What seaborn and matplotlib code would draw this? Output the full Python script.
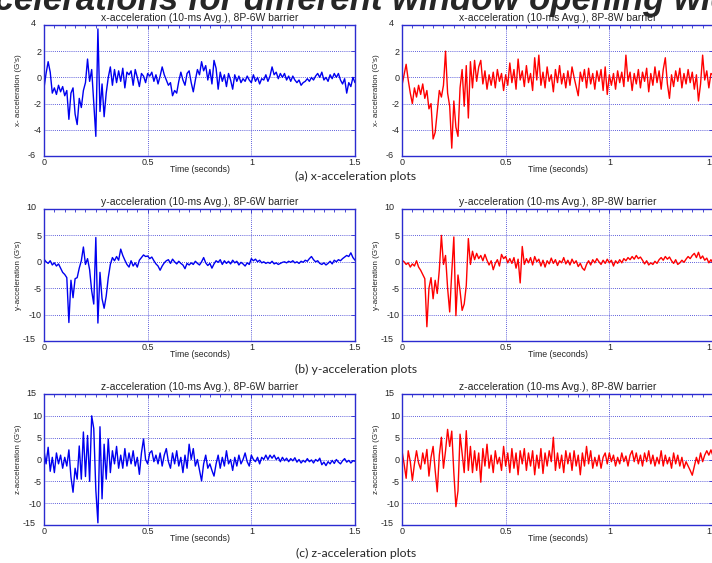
import numpy as np
import matplotlib
matplotlib.use("Agg")
import matplotlib.pyplot as plt
import matplotlib.transforms as mtransforms
from matplotlib.ticker import MultipleLocator
import seaborn as sns

# 10-ms averaged acceleration (G's), every 0.01 s from 0 to 1.5 s
x_6w = [
    -0.8, 0.3, 1.2, 0.4, -1.2, -0.8, -1.3, -0.6, -1.1, -0.7,
    -1.4, -1.0, -3.2, -1.2, -0.8, -2.8, -3.6, -1.6, -2.3, -1.0,
    -0.4, 1.4, -0.3, 0.6, -2.0, -4.5, 3.7, -2.6, -0.5, -3.0,
    -1.2, 0.0, 0.8, -0.6, 0.6, -0.4, 0.5, -0.3, 0.7, -0.8,
    0.4, 0.2, 0.5, -0.6, 0.6, 0.0, -0.7, 0.3, 0.1, -0.4,
    0.3, 0.1, 0.4, -0.3, 0.2, -0.5, 0.1, 0.8, 0.2, -0.2,
    -0.6, -0.4, -1.4, -1.0, -1.2, -0.3, 0.4, -0.2, -0.6, 0.3,
    0.5, -0.4, -1.1, -0.2, 0.6, 0.2, 1.2, 0.5, 0.9, -0.2,
    0.6, -0.5, 1.3, 0.7, -0.9, 0.4, -0.3, 0.2, -0.7, 0.3,
    -0.2, -0.9, 0.2, -0.3, 0.1, -0.4, -0.1, -0.3, 0.1, -0.2,
    -0.4, 0.2, -0.3, 0.0, -0.5, -0.1, -0.2, 0.2, -0.3, 0.1,
    0.8, 0.2, 0.4, -0.1, 0.3, 0.0, 0.3, -0.2, 0.1, -0.3,
    0.1, -0.2, -0.4, -0.2, -0.6, -0.4, -0.3, -0.1, -0.3, 0.0,
    -0.2, 0.1, 0.3, 0.0, 0.4, -0.2, 0.0, -0.3, 0.2, -0.1,
    0.3, 0.0, 0.3, -0.2, -0.5, -0.1, -1.2, -0.4, -0.7, 0.0,
    -0.4,
]
x_8w = [
    -0.6, 0.2, 1.0, -0.2, -1.2, -2.0, -0.8, -1.5, -0.6, -1.3,
    -0.5, -1.6, -1.0, -2.4, -2.0, -4.7, -4.2, -2.6, -1.0, -1.5,
    -0.6, 2.0, -1.2, -2.2, -5.4, -1.8, -3.8, -4.5, -0.8, 0.6,
    -2.2, 0.9, -3.1, 1.2, -0.8, 1.3, -0.3, 0.8, 1.3, -0.5,
    0.5, -0.9, 0.2, -0.6, 0.4, -0.8, 0.6, -0.3, 0.3, -1.0,
    0.2, -0.6, 1.1, -0.4, 0.6, -0.9, 1.4, -0.2, 0.5, -0.7,
    0.9, -0.4, 0.3, -1.0, 1.5, -0.2, 1.7, -0.6, 0.4, -0.8,
    0.8, -0.3, 0.2, -1.1, 0.6, -0.4, 0.9, -0.5, 0.3, -0.8,
    0.5, -0.6, 0.8, 0.0, -0.7, -1.4, 0.4, -0.3, 0.6, -0.8,
    0.7, -0.5, 0.3, -0.9, 0.5, -0.3, 0.6, -1.0, 0.8, -1.3,
    0.2, -0.6, 0.3, -0.9, 0.5, -0.4, 0.4, -0.7, 1.7, -0.3,
    0.4, -1.0, 0.3, -0.5, 0.6, -0.8, 0.4, -0.3, 0.7, -1.1,
    0.3, -0.6, 0.8, -0.4, 0.5, -0.9, 0.6, 1.5, -0.5, -1.6,
    0.2, -0.7, 0.5, -0.3, 0.7, -0.8, 0.3, -0.5, 0.6, -0.4,
    0.4, -0.9, 0.2, -1.8, -0.5, 1.7, -0.2, 0.5, -0.8, 0.3,
    0.2,
]
y_6w = [
    0.5, 0.0, -0.3, 0.2, -0.6, -0.2, -0.8, -0.4, -1.2, -2.0,
    -2.4, -3.0, -11.5, -3.5, -6.8, -3.2, -3.0, -1.2, 0.2, 2.8,
    -0.5, 0.6, -1.5, -5.5, -8.0, 4.6, -11.6, -2.0, -7.0, -8.8,
    -6.5, -3.0, -0.5, 0.8, 0.2, 1.0, 0.3, 2.4, 1.2, 0.3,
    -0.5, -1.0, 0.2, -0.8, -0.2, -1.0, 0.3, 0.8, 1.3, 1.0,
    1.1, 0.6, 0.9, 0.2, -0.4, -0.8, -1.6, -0.8, -0.2, 0.2,
    0.4, -0.3, 0.5, 0.0, -0.4, 0.1, -0.3, -0.6, -1.3, -0.3,
    -0.6, -0.2, -0.5, 0.1, -0.3, -0.6, 0.0, 0.8, -0.2, -0.7,
    -0.3, -1.2, -0.4, 0.2, -0.1, 0.4, -0.5, 0.2, -0.3, 0.1,
    -0.4, 0.3, -0.2, 0.1, -0.6, -0.1, -0.4, -0.8, -0.2, -0.5,
    0.6, 0.2, 0.5, 0.0, 0.3, -0.2, 0.0, -0.3, -0.1, -0.3,
    0.1, -0.4, -0.2, -0.5, -0.3, -0.1, 0.0, -0.2, 0.1, -0.1,
    0.2, -0.2, 0.0, -0.3, 0.1, -0.1, 0.3, 0.1, 0.6, 1.0,
    0.4, 0.0, 0.2, -0.3, -0.5, -0.2, -0.6, -0.3, 0.1, -0.4,
    0.3, 0.0, 0.4, 0.2, 0.6, 0.9, 1.2, 1.0, 1.7, 0.8,
    0.3,
]
y_8w = [
    0.3, 0.0, -0.5, -0.2, -1.0, -0.4, -0.8, 0.2, -1.0, -1.6,
    -2.4, -3.2, -12.3, -5.0, -3.0, -7.0, -3.5, -6.0, -1.5, 5.0,
    -0.5, 1.2, -5.0, -9.5, -2.0, 4.7, -10.2, -2.5, -5.5, -9.2,
    -8.0, -4.5, 4.4, -0.5, 2.0, 0.4, 1.6, 0.6, 1.2, 0.2,
    1.4, 0.3, -0.6, 0.2, -1.5, -0.3, 0.4, -0.8, 1.4, 0.6,
    1.0, -0.2, 0.6, -0.3, 0.8, -1.2, 0.5, -4.0, 2.9, -0.5,
    0.6, -0.2, 0.8, -0.6, 1.0, 0.0, 0.5, -0.8, 0.3, -1.0,
    0.2, -0.4, 0.7, -0.3, 0.4, -0.7, 0.2, -0.2, 0.8, -0.4,
    0.3, -0.6, 0.5, -0.3, 0.2, -0.9, -0.3, -1.2, -1.6, -0.5,
    0.2, -0.6, 0.4, -0.2, 0.6, 0.0, -0.5, 0.3, -0.3, 0.5,
    -0.2, 0.3, -0.8, 0.2, -0.3, 0.4, -0.2, 0.6, 0.2, 0.8,
    0.4, 1.0, 0.5, 1.2, 0.6, 0.9, 0.3, -0.4, 0.2, -0.6,
    -0.2, -0.5, 0.1, -0.3, 0.4, 0.8, 0.3, 1.0, 0.5, 0.9,
    0.2, -0.3, 0.4, -0.5, -0.2, 0.3, -0.1, 0.5, 1.0, 0.6,
    1.2, 1.6, 0.8, 1.8, 0.6, 1.1, 0.3, 0.7, -0.2, 0.4,
    -0.3,
]
z_6w = [
    2.0, -1.0, 2.8, -2.7, 0.5, -3.0, 1.5, -1.0, 1.0, -2.0,
    0.5, -1.5, 2.2, -4.0, -7.5, -2.0, -4.5, 3.1, -4.5, 6.3,
    -3.9, 5.5, -5.0, 10.0, 7.1, -7.0, -14.5, 7.5, -9.0, 3.5,
    -4.5, 4.7, -3.0, 2.0, -1.0, 3.0, -2.0, 1.0, -2.0, 2.5,
    -1.5, 1.5, -1.0, 2.0, -1.5, 0.5, -3.4, 1.5, 4.7, 0.0,
    -1.0, 1.5, 2.0, -0.5, 1.0, -1.0, 1.5, -1.5, 1.0, 2.5,
    -0.5, -2.0, 1.5, -1.0, 2.0, -1.5, 0.5, -3.0, 1.0, -2.0,
    3.5, 0.0, 2.5, -1.5, 0.0, -2.5, -4.9, -1.0, 1.0, -2.0,
    -1.0, -2.5, -3.8, -1.0, 1.0, -2.0, 0.5, -1.5, 2.0, -1.0,
    0.0, -2.5, 0.5, -1.5, 1.0, -1.0, 0.0, 1.5, -0.5, -1.5,
    1.0, 0.0, -0.5, 0.5, -1.0, 0.5, 0.0, 1.0, 0.0, 1.0,
    0.3, 1.0, 0.0, 0.5, -0.5, 0.5, -0.3, 0.3, -0.5, 0.2,
    -0.3, 0.4, -0.6, 0.0, -0.8, -0.2, -0.6, 0.2, -0.5, -0.1,
    -0.8, 0.0, -0.4, 0.3, -1.2, -0.6, -1.4, -0.5, -1.0, -0.2,
    -0.9, 0.0, -0.6, -1.0, -0.3, 0.2, -0.6, -0.2, -0.8, -0.3,
    -0.4,
]
z_8w = [
    2.0, -1.0, -4.3, 2.0, -0.5, -4.8, -1.0, 2.0, -0.8, -2.2,
    1.5, -1.0, 2.3, -3.8, 0.5, 3.0, -2.5, -7.4, 1.0, 5.1,
    -2.0, 2.0, 6.9, 3.0, 6.5, -3.0, -10.8, -7.2, 5.8, 1.5,
    -3.0, 6.6, -2.5, 3.0, -3.0, 2.0, -2.5, 1.5, -5.2, 2.5,
    -1.5, 3.5, -2.0, 1.0, -3.0, 2.0, -1.0, 0.5, -2.5, 3.0,
    -1.5, 1.5, -3.0, 2.5, -2.0, 1.5, -3.5, 2.0, -1.0, 2.5,
    -2.5, 1.5, -1.5, 2.0, -3.5, 1.0, -2.0, 2.5, -3.2, 1.5,
    -1.5, 2.0, -0.5, 5.1, -2.5, 1.5, -2.0, 1.0, -3.0, 2.0,
    -1.0, 1.5, -2.5, 2.0, -1.5, 1.0, -3.5, 1.5, -1.5, 3.0,
    -1.0, 2.0, -2.0, 0.5, -1.5, 1.0, -2.0, 0.5, 1.5, -1.0,
    1.5, -0.5, 1.0, -1.5, 0.5, -1.0, 1.5, -0.5, 0.8, -1.5,
    1.0, 2.0, -0.5, 1.5, -1.0, 1.0, -1.5, 1.5, -0.5, 2.0,
    -1.0, 1.0, -1.5, 0.5, -1.0, 2.0, -1.5, 1.0, -1.0, 0.5,
    -2.0, 1.5, -1.0, 1.0, -1.5, 0.5, -2.0, -0.5, -1.5, -2.5,
    -3.6, -1.5, 0.5, -1.0, 1.5, -0.5, 1.0, 2.0, 1.0, 2.2,
    0.8,
]

time = np.round(np.arange(len(x_6w)) * 0.01, 2)

axis_names = ["x", "y", "z"]
series_6w = [x_6w, y_6w, z_6w]
series_8w = [x_8w, y_8w, z_8w]
y_limits = [(-6, 4), (-15, 10), (-15, 15)]
y_steps = [2, 5, 5]
captions = ["(a) x-acceleration plots", "(b) y-acceleration plots", "(c) z-acceleration plots"]

sns.set_style("white")
plt.rcParams["font.family"] = ["Liberation Sans", "DejaVu Sans"]
plt.rcParams["axes.unicode_minus"] = False

W, H = 712, 563
fig = plt.figure(figsize=(W / 100, H / 100), dpi=100)

frame_blue = "#2b2bd0"
col_left, col_right, ax_w = 44, 402, 311
row_tops = [25, 209, 394]
row_bottoms = [156, 341, 525]
caption_y = [176, 369, 553]


def nudge(label, dx, dy):
    label.set_transform(label.get_transform() +
                        mtransforms.ScaledTranslation(dx / 100, dy / 100, fig.dpi_scale_trans))


for r, name in enumerate(axis_names):
    top, bottom = row_tops[r], row_bottoms[r]
    for left, vals, color, barrier in [(col_left, series_6w[r], "#0000f0", "8P-6W"),
                                       (col_right, series_8w[r], "#ff0000", "8P-8W")]:
        ax = fig.add_axes([left / W, 1 - bottom / H, ax_w / W, (bottom - top) / H])
        sns.lineplot(x=time, y=vals, ax=ax, color=color, linewidth=1.0)
        lo, hi = y_limits[r]
        ax.set_xlim(0, 1.5)
        ax.set_ylim(lo, hi)
        ax.set_xticks([0, 0.5, 1, 1.5])
        ax.set_xticklabels(["0", "0.5", "1", "1.5"])
        ax.set_yticks(np.arange(lo, hi + 1, y_steps[r]))
        ax.xaxis.set_minor_locator(MultipleLocator(0.05))
        ax.grid(True, which="major", color=frame_blue, linestyle=(0, (1, 1.5)), linewidth=0.6)
        for sp in ax.spines.values():
            sp.set_color(frame_blue)
            sp.set_linewidth(1.0)
        ax.tick_params(which="both", direction="in", top=True, right=True, color=frame_blue,
                       labelsize=6.5, pad=1.5)
        ax.tick_params(which="major", length=3, width=0.6)
        ax.tick_params(which="minor", length=2, width=0.6)
        ax.tick_params(axis="y", which="minor", left=False, right=False)
        ax.set_title(f"{name}-acceleration (10-ms Avg.), {barrier} barrier", fontsize=7.5, pad=3)
        ax.set_xlabel("Time (seconds)", fontsize=6.3)
        ax.xaxis.set_label_coords(0.5, -9 / (bottom - top))
        ax.set_ylabel(f"{name}- acceleration (G's)" if r == 0 else f"{name}-acceleration (G's)", fontsize=5.8)
        ax.yaxis.set_label_coords(-22 / ax_w, 0.5)
        yt = ax.yaxis.get_major_ticks()
        nudge(yt[0].label1, -6, 2)
        nudge(yt[-1].label1, -6, 2)

for r, text in enumerate(captions):
    fig.text(0.5, 1 - caption_y[r] / H, text, ha="center", va="center", fontsize=8.8,
             family=["Lato", "DejaVu Sans"])

fig.text(-49 / W, 1 - 10 / H, "Accelerations for different window opening widths",
         fontsize=25, fontweight="bold", style="italic", va="baseline", ha="left")

fig.savefig("out.png", dpi=100)
